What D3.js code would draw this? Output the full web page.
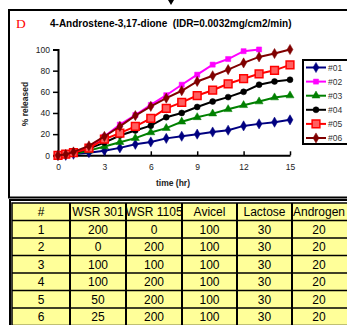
<!DOCTYPE html>
<html>
<head>
<meta charset="utf-8">
<script src="https://cdn.jsdelivr.net/npm/d3@7"></script>
<style>
  body { margin: 0; background: #fff; }
  svg { display: block; font-family: "Liberation Sans", Arial, sans-serif; }
</style>
</head>
<body>
<svg id="chart" width="347" height="325"></svg>
<script>
// release data (% released vs time in hr)
const times = [0, 0.5, 1, 2, 3, 4, 5, 6, 7, 8, 9, 10, 11, 12, 13, 14, 15];
const s01 = [0, 0, 1, 2.5, 4.4, 7, 10.4, 12.6, 16, 18, 20, 22, 23.7, 27.8, 29.7, 31.3, 33.5];
const s02 = [0, 0.5, 2, 8, 17.8, 29, 38, 47.6, 56.8, 66.7, 76.2, 85.7, 91, 98.4, 100];
const s03 = [0, 0, 1, 4.4, 8.3, 12.4, 16.2, 21.6, 25.7, 31.7, 35.9, 39.4, 43.5, 47.3, 50.8, 54.6, 56.5];
const s04 = [0, 0.5, 2, 6.3, 12, 18.7, 23.5, 28, 36, 40, 45.7, 50.8, 55, 60, 66.7, 69.8, 71.4];
const s05 = [0, 1, 2.5, 6.7, 15.2, 21, 27.3, 35, 44.4, 50, 56.5, 61.5, 67.6, 72.4, 77, 80.3, 85.5];
const s06 = [0, 0.8, 3.2, 8.9, 17.8, 27.3, 37.5, 46.3, 54, 61, 69.8, 75.2, 81, 87.3, 93, 96.2, 100];
const seriesNames = ['#01', '#02', '#03', '#04', '#05', '#06'];
const xTicks = [0, 3, 6, 9, 12, 15];
const yTicks = [0, 20, 40, 60, 80, 100];

// formulation table
const tableHeader = ['#', 'WSR 301', 'WSR 1105', 'Avicel', 'Lactose', 'Androgen'];
const tableRows = [
    [1, 200, 0, 100, 30, 20],
    [2, 0, 200, 100, 30, 20],
    [3, 100, 100, 100, 30, 20],
    [4, 100, 200, 100, 30, 20],
    [5, 50, 200, 100, 30, 20],
    [6, 25, 200, 100, 30, 20]
];

const svg = d3.select('#chart');

// series styles
const series = [
    { name: seriesNames[0], values: s01, color: '#000080', symbol: d3.symbolDiamond, size: 30 },
    { name: seriesNames[1], values: s02, color: '#ff00ff', symbol: d3.symbolSquare, size: 26 },
    { name: seriesNames[2], values: s03, color: '#008000', symbol: d3.symbolTriangle, size: 28 },
    { name: seriesNames[3], values: s04, color: '#000000', symbol: d3.symbolCircle, size: 28 },
    { name: seriesNames[4], values: s05, color: '#ff0000', symbol: d3.symbolSquare, size: 60, hollow: true },
    { name: seriesNames[5], values: s06, color: '#800000', symbol: d3.symbolDiamond, size: 30 }
];

// chart frame
svg.append('rect')
    .attr('x', 9).attr('y', 10)
    .attr('width', 345).attr('height', 187.5)
    .attr('fill', 'none').attr('stroke', '#000').attr('stroke-width', 2);

// small arrow at the top
svg.append('path')
    .attr('d', 'M168,0 L174,0 L171,5 Z')
    .attr('fill', '#000');

svg.append('text')
    .text('D')
    .attr('x', 16).attr('y', 28)
    .attr('fill', '#ff0000')
    .attr('font-family', '"Liberation Serif", "Times New Roman", serif')
    .attr('font-size', 13.5);

svg.append('text')
    .text('4-Androstene-3,17-dione  (IDR=0.0032mg/cm2/min)')
    .attr('x', 50).attr('y', 26.5)
    .attr('font-weight', 'bold')
    .attr('font-size', 10)
    .attr('xml:space', 'preserve')
    .style('white-space', 'pre');

// scales
const xScale = d3.scaleLinear().domain([0, 15]).range([58, 290]);
const yScale = d3.scaleLinear().domain([0, 100]).range([155.3, 49.5]);

// axes
const xAxis = d3.axisBottom(xScale).tickValues(xTicks).tickSizeInner(-4).tickSizeOuter(0).tickPadding(9);
const yAxis = d3.axisLeft(yScale).tickValues(yTicks).tickSize(5).tickPadding(3);

const gx = svg.append('g')
    .attr('transform', `translate(0, ${yScale(0)})`)
    .call(xAxis);
const gy = svg.append('g')
    .attr('transform', `translate(${xScale(0)}, 0)`)
    .call(yAxis);
[gx, gy].forEach(g => {
    g.select('.domain').attr('stroke', '#000').attr('stroke-width', 2);
    g.selectAll('.tick line').attr('stroke', '#000').attr('stroke-width', 1.5);
    g.selectAll('.tick text').attr('font-size', 8.5).attr('fill', '#222')
        .attr('font-family', '"Liberation Sans", Arial, sans-serif');
});

svg.append('text')
    .text('time (hr)')
    .attr('x', 173).attr('y', 186)
    .attr('text-anchor', 'middle')
    .attr('font-weight', 'bold')
    .attr('font-size', 8.5)
    .attr('fill', '#222');
svg.append('text')
    .text('% released')
    .attr('transform', 'rotate(-90)')
    .attr('x', -104).attr('y', 28)
    .attr('text-anchor', 'middle')
    .attr('font-weight', 'bold')
    .attr('font-size', 8.5)
    .attr('fill', '#222');

// lines and markers
const line = d3.line()
    .x((d, i) => xScale(times[i]))
    .y(d => yScale(d));

series.forEach(s => {
    svg.append('path')
        .datum(s.values)
        .attr('d', line)
        .attr('fill', 'none')
        .attr('stroke', s.color)
        .attr('stroke-width', 2);
    svg.selectAll(null)
        .data(s.values)
        .enter()
        .append('path')
        .attr('d', d3.symbol().type(s.symbol).size(s.size))
        .attr('transform', (d, i) => `translate(${xScale(times[i])}, ${yScale(d)})`)
        .attr('fill', s.hollow ? '#ff6060' : s.color)
        .attr('stroke', s.color)
        .attr('stroke-width', s.hollow ? 1.5 : 0.5);
});

// legend
const legend = svg.append('g').attr('transform', 'translate(303, 60)');
legend.append('rect')
    .attr('width', 50).attr('height', 84)
    .attr('fill', '#fff').attr('stroke', '#000').attr('stroke-width', 2);
series.forEach((s, i) => {
    const y = 7.5 + i * 14.1;
    const item = legend.append('g').attr('transform', `translate(0, ${y})`);
    item.append('line')
        .attr('x1', 3).attr('x2', 23)
        .attr('stroke', s.color).attr('stroke-width', 2);
    item.append('path')
        .attr('d', d3.symbol().type(s.symbol).size(s.size))
        .attr('transform', 'translate(13, 0)')
        .attr('fill', s.hollow ? '#ff6060' : s.color)
        .attr('stroke', s.color)
        .attr('stroke-width', s.hollow ? 1.5 : 0.5);
    item.append('text')
        .text(s.name)
        .attr('x', 25).attr('y', 3)
        .attr('font-size', 8.5)
        .attr('fill', '#333');
});

// table
const colX = [12, 70, 126, 182, 237, 292, 352];
const rowY = d3.range(8).map(i => 203 + i * 17.5);
const allRows = [tableHeader].concat(tableRows);

const table = svg.append('g');
table.append('rect')
    .attr('x', 10).attr('y', 200)
    .attr('width', 345).attr('height', 130)
    .attr('fill', 'none').attr('stroke', '#000').attr('stroke-width', 2);
table.append('rect')
    .attr('x', colX[0]).attr('y', rowY[0])
    .attr('width', colX[6] - colX[0]).attr('height', rowY[7] - rowY[0])
    .attr('fill', '#ffff99').attr('stroke', '#000').attr('stroke-width', 1.5);
colX.slice(1, 6).forEach(x => {
    table.append('line')
        .attr('x1', x).attr('x2', x)
        .attr('y1', rowY[0]).attr('y2', rowY[7])
        .attr('stroke', '#000').attr('stroke-width', 2);
});
rowY.slice(1, 7).forEach(y => {
    table.append('line')
        .attr('x1', colX[0]).attr('x2', colX[6])
        .attr('y1', y).attr('y2', y)
        .attr('stroke', '#000').attr('stroke-width', 1.3);
});
allRows.forEach((row, r) => {
    row.forEach((cell, c) => {
        table.append('text')
            .text(cell)
            .attr('x', (colX[c] + colX[c + 1]) / 2 - (c === 5 ? 3 : 0))
            .attr('y', rowY[r] + 13)
            .attr('text-anchor', 'middle')
            .attr('font-size', 12)
            .attr('fill', '#000');
    });
});
</script>
</body>
</html>
